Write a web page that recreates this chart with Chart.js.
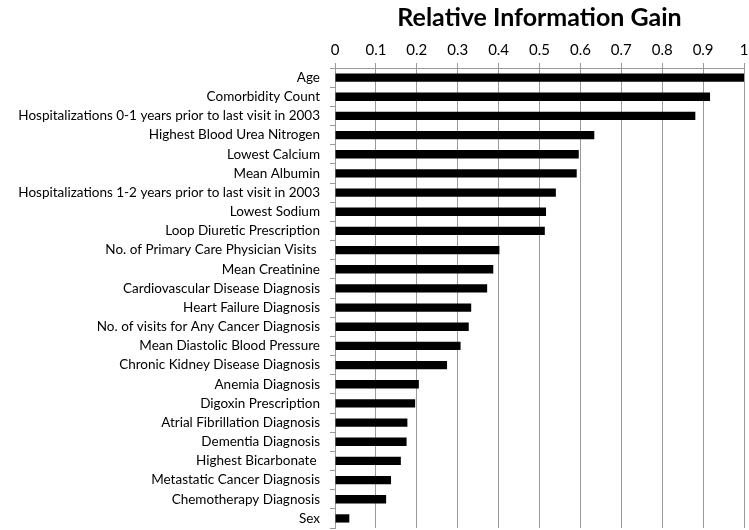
<!DOCTYPE html>
<html>
<head>
<meta charset="utf-8">
<script src="https://cdn.jsdelivr.net/npm/chart.js@4"></script>
<style>
	body { margin: 0; background: #fff; }
	#wrap { width: 749px; height: 530px; }
</style>
</head>
<body>
<div id="wrap"><canvas id="bar-chart" width="749" height="530"></canvas></div>
<script>
const features = [
	'Age', 'Comorbidity Count', 'Hospitalizations 0-1 years prior to last visit in 2003',
	'Highest Blood Urea Nitrogen', 'Lowest Calcium', 'Mean Albumin',
	'Hospitalizations 1-2 years prior to last visit in 2003', 'Lowest Sodium',
	'Loop Diuretic Prescription', 'No. of Primary Care Physician Visits ', 'Mean Creatinine',
	'Cardiovascular Disease Diagnosis', 'Heart Failure Diagnosis',
	'No. of visits for Any Cancer Diagnosis', 'Mean Diastolic Blood Pressure',
	'Chronic Kidney Disease Diagnosis', 'Anemia Diagnosis', 'Digoxin Prescription',
	'Atrial Fibrillation Diagnosis', 'Dementia Diagnosis', 'Highest Bicarbonate ',
	'Metastatic Cancer Diagnosis', 'Chemotherapy Diagnosis', 'Sex'
];
const gain = [1.0, 0.917, 0.881, 0.634, 0.596, 0.591, 0.540, 0.516, 0.513, 0.402, 0.387,
	0.372, 0.333, 0.327, 0.307, 0.274, 0.205, 0.196, 0.177, 0.175, 0.161, 0.137, 0.125, 0.035];

const ctx = document.querySelector('#bar-chart');
new Chart(ctx, {
	type: 'bar',
	data: {
		labels: features,
		datasets: [{
			label: 'Relative Information Gain',
			data: gain,
			backgroundColor: '#000',
			barPercentage: 0.9,
			categoryPercentage: 0.48
		}]
	},
	options: {
		indexAxis: 'y',
		responsive: false,
		animation: false,
		layout: { padding: { top: 3, right: 5, bottom: 2, left: 0 } },
		plugins: {
			legend: { display: false },
			tooltip: { enabled: false },
			title: {
				display: true,
				fullSize: false,
				text: 'Relative Information Gain',
				color: '#000',
				font: { family: 'Lato', size: 25, weight: 'bold' },
				padding: { top: 0, bottom: 4 }
			}
		},
		scales: {
			x: {
				position: 'top',
				min: 0,
				max: 1,
				afterFit: function (scale) { scale.paddingRight = 5; },
				ticks: {
					stepSize: 0.1,
					color: '#000',
					padding: 4,
					font: { family: 'Lato', size: 15 },
					callback: function (v) { return Math.round(v * 10) / 10 + ''; }
				},
				grid: { color: '#9a9a9a', tickLength: 5 },
				border: { color: '#9a9a9a' }
			},
			y: {
				afterFit: function (scale) {
					scale.width = 335;
					scale.paddingTop = 0;
					scale.paddingBottom = 0;
				},
				ticks: {
					autoSkip: false,
					color: '#000',
					padding: 10,
					font: { family: 'Lato', size: 13.5 }
				},
				grid: { offset: true, drawOnChartArea: false, color: '#9a9a9a', tickLength: 5 },
				border: { color: '#9a9a9a' }
			}
		}
	}
});
</script>
</body>
</html>
